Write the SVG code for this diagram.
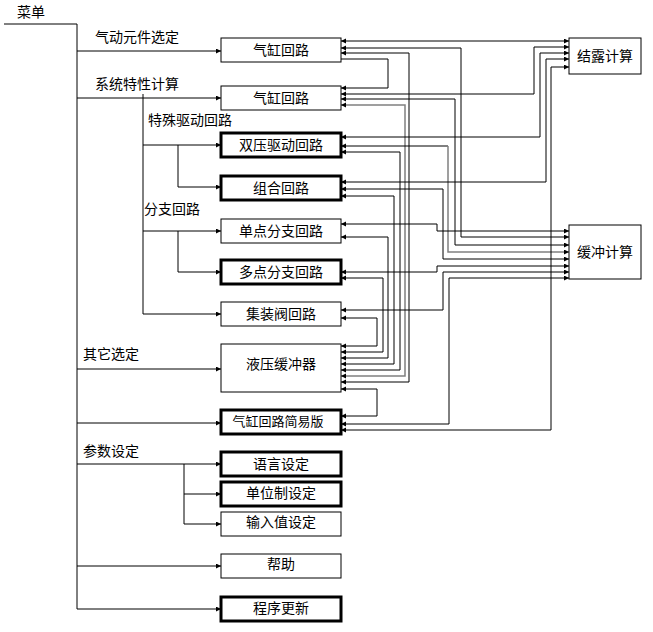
<svg xmlns="http://www.w3.org/2000/svg" width="653" height="632" viewBox="0 0 653 632">
<style>
text{font-family:"Noto Sans CJK SC","Noto Sans",sans-serif;fill:#000}
.lbl{font-size:14px}
.bt{font-size:14px;text-anchor:middle}
.box{fill:#fff;stroke:#000;stroke-width:1}
.bold{fill:#fff;stroke:#000;stroke-width:3}
.ln{fill:none;stroke:#000;stroke-width:1}
.g{fill:none;stroke:#808080;stroke-width:1.5}
.a2{marker-start:url(#ah);marker-end:url(#ah)}
.a1{marker-end:url(#ah)}
</style>
<defs>
<marker id="ah" markerUnits="userSpaceOnUse" markerWidth="6" markerHeight="6" refX="5" refY="2.5" orient="auto-start-reverse">
<path d="M0,0 L5,2.5 L0,5 z" fill="#000"/>
</marker>
</defs>
<rect width="653" height="632" fill="#fff"/>
<g id="labels">
<text class="lbl" x="17" y="17">菜单</text>
<text class="lbl" x="95" y="42">气动元件选定</text>
<text class="lbl" x="95" y="89">系统特性计算</text>
<text class="lbl" x="148" y="125">特殊驱动回路</text>
<text class="lbl" x="144" y="214">分支回路</text>
<text class="lbl" x="83" y="359">其它选定</text>
<text class="lbl" x="83" y="456">参数设定</text>
</g>
<g id="connectors">
<path class="ln" d="M4,24 H77 V609"/>
<path class="ln a1" d="M77,51 H221"/>
<path class="ln a1" d="M77,98 H221"/>
<path class="ln" d="M143,94 V314"/>
<path class="ln a1" d="M143,145 H221"/>
<path class="ln a1" d="M178,145 V187 H221"/>
<path class="ln a1" d="M143,231 H221"/>
<path class="ln a1" d="M178,231 V272 H221"/>
<path class="ln a1" d="M143,314 H221"/>
<path class="ln a1" d="M77,369 H221"/>
<path class="ln a1" d="M77,423 H221"/>
<path class="ln a1" d="M77,464 H221"/>
<path class="ln" d="M184,464 V524"/>
<path class="ln a1" d="M184,494 H221"/>
<path class="ln a1" d="M184,524 H221"/>
<path class="ln a1" d="M77,566 H221"/>
<path class="ln a1" d="M77,609 H221"/>

<path class="ln a2" d="M341,41 H569"/>
<path class="ln a2" d="M341,48 H461 V237 H569"/>
<path class="ln a2" d="M341,53 H409 V382 H341"/>
<path class="ln a1" d="M341,59 H388 V88 H341"/>
<path class="ln a2" d="M341,94 H534 V47 H569"/>
<path class="ln a2" d="M341,99 H455 V245 H569"/>
<path class="g a2" d="M341,105 H405 V376 H341"/>
<path class="ln a2" d="M341,137 H540 V53 H569"/>
<path class="ln" d="M341,146 H448" style="marker-start:url(#ah)"/>
<path class="g a1" d="M448,146 V252 H569"/>
<path class="ln a2" d="M341,152 H400 V370 H341"/>
<path class="ln a2" d="M341,182 H546 V59 H569"/>
<path class="ln a2" d="M341,189 H443 V259 H569"/>
<path class="ln a2" d="M341,196 H394 V364 H341"/>
<path class="ln a2" d="M341,224 H437 V231 H569"/>
<path class="ln a2" d="M341,237 H388 V358 H341"/>
<path class="ln a2" d="M341,272 H437 V266 H569"/>
<path class="ln a2" d="M341,278 H383 V352 H341"/>
<path class="ln a2" d="M341,310 H443 V272 H569"/>
<path class="ln a2" d="M341,318 H377 V346 H341"/>
<path class="ln a2" d="M341,389 H377 V416 H341"/>
<path class="ln a2" d="M341,424 H449 V278 H569"/>
<path class="ln a2" d="M341,430 H551 V67 H569"/>
</g>
<g id="n1"><rect class="box" x="221" y="38" width="120" height="24"/><text class="bt" x="281" y="55">气缸回路</text></g>
<g id="n2"><rect class="box" x="221" y="86" width="120" height="24"/><text class="bt" x="281" y="103">气缸回路</text></g>
<g id="n3"><rect class="bold" x="221" y="133" width="120" height="24"/><text class="bt" x="281" y="150">双压驱动回路</text></g>
<g id="n4"><rect class="bold" x="221" y="176" width="120" height="24"/><text class="bt" x="281" y="193">组合回路</text></g>
<g id="n5"><rect class="box" x="221" y="219" width="120" height="24"/><text class="bt" x="281" y="236">单点分支回路</text></g>
<g id="n6"><rect class="bold" x="221" y="260" width="120" height="24"/><text class="bt" x="281" y="277">多点分支回路</text></g>
<g id="n7"><rect class="box" x="221" y="302" width="120" height="24"/><text class="bt" x="281" y="319">集装阀回路</text></g>
<g id="n8"><rect class="box" x="221" y="344" width="120" height="48"/><text class="bt" x="281" y="369">液压缓冲器</text></g>
<g id="n9"><rect class="bold" x="221" y="410" width="120" height="24"/><text class="bt" x="278" y="426" style="font-size:13px">气缸回路简易版</text></g>
<g id="n10"><rect class="bold" x="221" y="452" width="120" height="24"/><text class="bt" x="281" y="469">语言设定</text></g>
<g id="n11"><rect class="bold" x="221" y="482" width="120" height="24"/><text class="bt" x="281" y="498">单位制设定</text></g>
<g id="n12"><rect class="box" x="221" y="512" width="120" height="24"/><text class="bt" x="281" y="527">输入值设定</text></g>
<g id="n13"><rect class="box" x="221" y="554" width="120" height="24"/><text class="bt" x="281" y="569">帮助</text></g>
<g id="n14"><rect class="bold" x="221" y="597" width="120" height="24"/><text class="bt" x="281" y="613">程序更新</text></g>
<g id="n15"><rect class="box" x="569" y="38" width="72" height="36"/><text class="bt" x="605" y="61">结露计算</text></g>
<g id="n16"><rect class="box" x="569" y="225" width="72" height="54"/><text class="bt" x="605" y="257">缓冲计算</text></g>
</svg>
